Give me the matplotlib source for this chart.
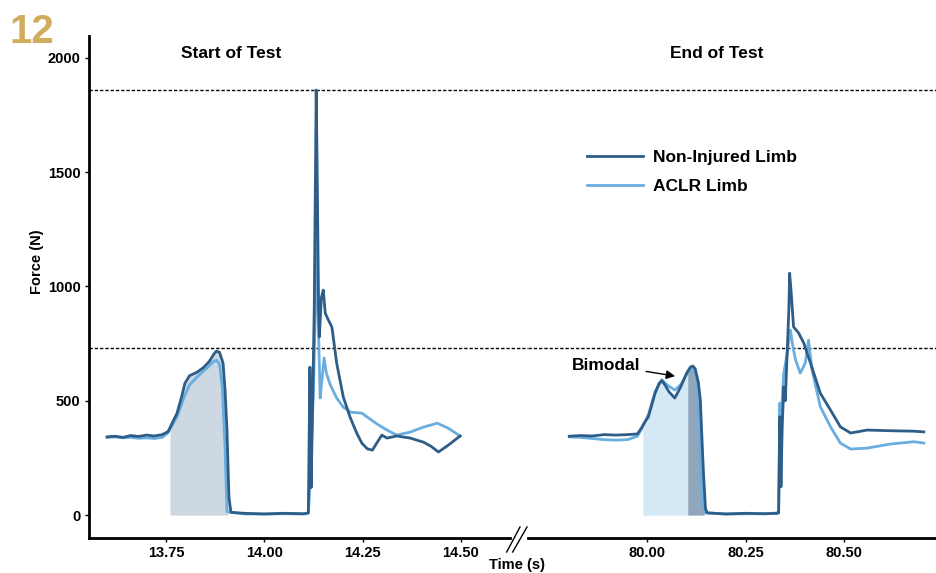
import numpy as np
import matplotlib
matplotlib.use("Agg")
import matplotlib.pyplot as plt
from matplotlib.lines import Line2D

plt.rcParams["font.family"] = ["Liberation Sans", "DejaVu Sans"]
plt.rcParams["font.weight"] = "bold"

# ---- data ----
# start of test, non-injured limb
t_start_ni = [13.600, 13.620, 13.640, 13.660, 13.680, 13.700, 13.720, 13.740, 13.755, 13.765,
              13.778, 13.790, 13.798, 13.810, 13.829, 13.845, 13.860, 13.872, 13.878, 13.886,
              13.895, 13.900, 13.905, 13.910, 13.915, 13.950, 14.000, 14.050, 14.100, 14.112,
              14.116, 14.119, 14.122, 14.127, 14.132, 14.135, 14.138, 14.140, 14.145, 14.150,
              14.155, 14.163, 14.172, 14.184, 14.201, 14.218, 14.235, 14.248, 14.262, 14.275,
              14.286, 14.299, 14.312, 14.337, 14.371, 14.405, 14.425, 14.443, 14.468, 14.498]
f_start_ni = [342, 345, 340, 348, 344, 350, 346, 352, 365, 400,
              446, 520, 577, 610, 625, 645, 672, 705, 717, 712,
              665, 550, 372, 80, 12, 8, 5, 8, 6, 10,
              647, 120, 400, 900, 1859, 1421, 900, 779, 950, 984,
              883, 853, 822, 665, 516, 429, 359, 315, 290, 284,
              315, 350, 337, 346, 337, 319, 300, 276, 306, 346]

# start of test, ACLR limb
t_start_aclr = [13.600, 13.620, 13.640, 13.660, 13.680, 13.700, 13.720, 13.740, 13.755, 13.765,
                13.778, 13.798, 13.810, 13.829, 13.854, 13.870, 13.878, 13.886, 13.893, 13.900,
                13.905, 13.950, 14.000, 14.050, 14.100, 14.112, 14.117, 14.120, 14.125, 14.130,
                14.134, 14.138, 14.142, 14.147, 14.152, 14.158, 14.168, 14.184, 14.201, 14.220,
                14.248, 14.269, 14.290, 14.312, 14.337, 14.371, 14.405, 14.440, 14.468, 14.498]
f_start_aclr = [340, 342, 338, 340, 336, 338, 335, 340, 360, 390,
                430, 525, 570, 604, 643, 670, 678, 660, 560, 300,
                15, 5, 5, 6, 5, 8, 150, 300, 550, 900,
                1250, 800, 512, 600, 687, 620, 569, 512, 472, 450,
                446, 420, 395, 372, 350, 363, 385, 402, 380, 346]

# end of test, non-injured limb
t_end_ni = [79.802, 79.830, 79.860, 79.890, 79.920, 79.950, 79.975, 79.985, 79.995, 80.003,
            80.020, 80.030, 80.037, 80.045, 80.055, 80.070, 80.085, 80.100, 80.110, 80.116,
            80.122, 80.130, 80.135, 80.140, 80.143, 80.148, 80.152, 80.200, 80.250, 80.300,
            80.330, 80.334, 80.337, 80.340, 80.343, 80.347, 80.351, 80.355, 80.360, 80.362,
            80.366, 80.372, 80.385, 80.398, 80.415, 80.440, 80.466, 80.491, 80.517, 80.559,
            80.618, 80.678, 80.703]
f_end_ni = [345, 348, 346, 352, 350, 352, 355, 380, 410, 430,
            533, 575, 588, 570, 540, 512, 560, 620, 648, 652,
            640, 580, 503, 300, 184, 30, 10, 5, 8, 6,
            8, 10, 430, 124, 380, 561, 500, 678, 900, 1058,
            971, 823, 796, 752, 665, 533, 459, 386, 359, 372,
            369, 367, 364]

# end of test, ACLR limb
t_end_aclr = [79.802, 79.830, 79.860, 79.890, 79.920, 79.950, 79.975, 79.985, 79.995, 80.003,
              80.020, 80.037, 80.050, 80.070, 80.085, 80.100, 80.110, 80.116, 80.122, 80.128,
              80.135, 80.140, 80.148, 80.200, 80.250, 80.300, 80.334, 80.337, 80.340, 80.343,
              80.347, 80.355, 80.364, 80.370, 80.377, 80.389, 80.402, 80.410, 80.419, 80.440,
              80.466, 80.491, 80.517, 80.559, 80.618, 80.678, 80.703]
f_end_aclr = [342, 340, 335, 330, 328, 330, 345, 375, 410, 440,
              540, 592, 570, 547, 570, 615, 640, 648, 630, 560,
              300, 60, 10, 5, 6, 6, 10, 490, 200, 500,
              621, 700, 809, 740, 678, 621, 665, 765, 634, 474,
              386, 315, 289, 293, 311, 321, 315]

ref_lines = [1859, 730]
shade_start = (13.760, 13.908)
shade_end = [(79.989, 80.103), (80.103, 80.145)]
yticks = [0, 500, 1000, 1500, 2000]
xticks_start = [13.75, 14.00, 14.25, 14.50]
xticks_end = [80.00, 80.25, 80.50]

DARK = "#2e5d87"
LIGHT = "#6aaee0"

fig = plt.figure(figsize=(9.36, 5.73), dpi=100)
W, H = 936, 573
ax1 = fig.add_axes([89 / W, 1 - 538 / H, (510 - 89) / W, (538 - 36) / H])
ax2 = fig.add_axes([528 / W, 1 - 538 / H, (936 - 528) / W, (538 - 36) / H], sharey=ax1)


def shade(ax, t, f, t0, t1, color):
    grid = np.linspace(t0, t1, 200)
    ax.fill_between(grid, 0, np.interp(grid, t, f), color=color, lw=0, zorder=1)


shade(ax1, t_start_ni, f_start_ni, *shade_start, "#cdd8e3")
shade(ax2, t_end_ni, f_end_ni, *shade_end[0], "#d5e8f6")
shade(ax2, t_end_ni, f_end_ni, *shade_end[1], "#8fa6bc")

ax1.plot(t_start_aclr, f_start_aclr, color=LIGHT, lw=2.0, zorder=3)
ax1.plot(t_start_ni, f_start_ni, color=DARK, lw=2.0, zorder=4)
ax2.plot(t_end_aclr, f_end_aclr, color=LIGHT, lw=2.0, zorder=3, label="ACLR Limb")
ax2.plot(t_end_ni, f_end_ni, color=DARK, lw=2.0, zorder=4, label="Non-Injured Limb")

for y in ref_lines:
    ax1.axhline(y, xmin=0, xmax=1.05, color="black", lw=1.0, ls=(0, (2.4, 1.4)),
                clip_on=False, zorder=2)
    ax2.axhline(y, color="black", lw=1.0, ls=(0, (2.4, 1.4)), zorder=2)

ax1.set_xlim(13.554, 14.625)
ax2.set_xlim(79.697, 80.734)
ax1.set_ylim(-100, 2095)
ax1.set_yticks(yticks)
ax1.set_xticks(xticks_start)
ax1.set_xticklabels([f"{v:.2f}" for v in xticks_start])
ax2.set_xticks(xticks_end)
ax2.set_xticklabels([f"{v:.2f}" for v in xticks_end])

for ax in (ax1, ax2):
    for side in ("top", "right"):
        ax.spines[side].set_visible(False)
    ax.spines["bottom"].set_linewidth(2.0)
    ax.spines["left"].set_linewidth(2.0)
    ax.tick_params(axis="both", length=3, width=1, labelsize=10.5, pad=3)
ax2.spines["left"].set_visible(False)
ax2.tick_params(axis="y", left=False, labelleft=False)

title_y = 1 - (54 - 36) / (538 - 36)
ax1.set_title("Start of Test", fontsize=12.5, fontweight="bold", x=(231 - 89) / (510 - 89),
              y=title_y, va="center", pad=0)
ax2.set_title("End of Test", fontsize=12.5, fontweight="bold", x=(717 - 528) / (936 - 528),
              y=title_y, va="center", pad=0)

handles, labels = ax2.get_legend_handles_labels()
ax2.legend(handles[::-1], labels[::-1], loc="upper left", frameon=False, fontsize=12.5,
           bbox_to_anchor=(587 / W, 1 - 150 / H), bbox_transform=fig.transFigure,
           borderaxespad=0, borderpad=0, handlelength=3.2, handletextpad=0.6,
           labelspacing=0.8)

ax2.annotate("Bimodal", xy=(80.071, 608), xytext=(79.983, 656), ha="right", va="center",
             fontsize=12.5, fontweight="bold",
             arrowprops=dict(arrowstyle="-|>", color="black", lw=1.0, mutation_scale=13,
                             shrinkA=2, shrinkB=0))

fig.text(37 / W, 1 - 262 / H, "Force (N)", rotation=90, ha="center", va="center",
         fontsize=10.5, fontweight="bold")
fig.text(517 / W, 1 - 565 / H, "Time (s)", ha="center", va="center",
         fontsize=10.5, fontweight="bold")
fig.text(10 / W, 1 - 43 / H, "12", ha="left", va="baseline", fontsize=29,
         fontweight="bold", color="#d1ae5f")

# axis break marks
for x0, x1 in [(506.7, 520.0), (512.7, 527.0)]:
    fig.add_artist(Line2D([x0 / W, x1 / W], [1 - 552 / H, 1 - 527 / H],
                          color="black", lw=1.0))

fig.savefig("out.png", dpi=100)
